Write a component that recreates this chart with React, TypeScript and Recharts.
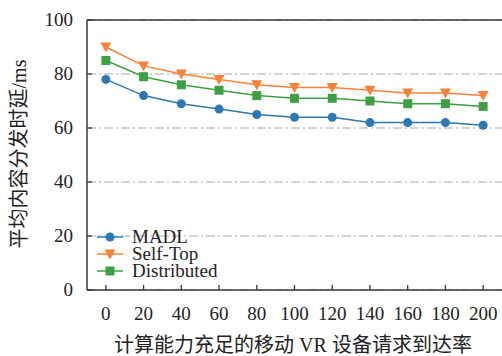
import { LineChart, Line, XAxis, YAxis, CartesianGrid, ReferenceLine } from 'recharts';

const rates = [0, 20, 40, 60, 80, 100, 120, 140, 160, 180, 200];
const madl = [78, 72, 69, 67, 65, 64, 64, 62, 62, 62, 61];
const selfTop = [90, 83, 80, 78, 76, 75, 75, 74, 73, 73, 72];
const distributed = [85, 79, 76, 74, 72, 71, 71, 70, 69, 69, 68];
const yTicks = [0, 20, 40, 60, 80, 100];

const BLUE = '#2b78b5';
const ORANGE = '#f7823a';
const GREEN = '#3f9f45';
const AXIS = '#3a3a3a';
const FONT = '"Liberation Serif", "Times New Roman", serif';
const CJK = '"Noto Sans CJK SC", "Liberation Serif", serif';

const data = rates.map((r, i) => ({
    rate: r,
    madl: madl[i],
    selfTop: selfTop[i],
    distributed: distributed[i],
}));

const XTick = (props: any) => {
    const { x, y, payload } = props;
    return (
        <g>
            <line x1={x} y1={y} x2={x} y2={y - 5} stroke={AXIS} strokeWidth={1.3} />
            <text x={x} y={y + 30} textAnchor="middle" style={{ fontFamily: FONT }} fontSize={19} fill="#222">
                {payload.value}
            </text>
        </g>
    );
};

const YTick = (props: any) => {
    const { x, y, payload } = props;
    return (
        <g>
            <line x1={x} y1={y} x2={x + 5} y2={y} stroke={AXIS} strokeWidth={1.3} />
            <text x={x - 14} y={y + 6} textAnchor="end" style={{ fontFamily: FONT }} fontSize={19} fill="#222">
                {payload.value}
            </text>
        </g>
    );
};

const TriangleDot = (props: any) => {
    const { cx, cy } = props;
    if (cx == null || cy == null) return null;
    return <path d={`M${cx - 5.5},${cy - 4.5} L${cx + 5.5},${cy - 4.5} L${cx},${cy + 5.5} Z`} fill={ORANGE} />;
};

const SquareDot = (props: any) => {
    const { cx, cy } = props;
    if (cx == null || cy == null) return null;
    return <rect x={cx - 4.5} y={cy - 4.5} width={9} height={9} fill={GREEN} />;
};

const legendItems = [
    { name: 'MADL', color: BLUE, shape: 'circle' },
    { name: 'Self-Top', color: ORANGE, shape: 'triangle' },
    { name: 'Distributed', color: GREEN, shape: 'square' },
];

const ChartLegend = () => (
    <div
        style={{
            position: 'absolute',
            left: 95,
            top: 228,
            fontFamily: FONT,
            fontSize: 19,
            color: '#222',
            lineHeight: '17px',
        }}
    >
        {legendItems.map((item) => (
            <div key={item.name} style={{ display: 'flex', alignItems: 'center', height: 17 }}>
                <svg width={30} height={14} style={{ marginRight: 7 }}>
                    <line x1={2} y1={7} x2={28} y2={7} stroke={item.color} strokeWidth={1.5} />
                    {item.shape === 'circle' && <circle cx={15} cy={7} r={4.5} fill={item.color} />}
                    {item.shape === 'triangle' && <path d="M9.5,2.5 L20.5,2.5 L15,12.5 Z" fill={item.color} />}
                    {item.shape === 'square' && <rect x={10.5} y={2.5} width={9} height={9} fill={item.color} />}
                </svg>
                <span>{item.name}</span>
            </div>
        ))}
    </div>
);

export default function App() {
    return (
        <div style={{ position: 'absolute', left: 0, top: 0, width: 502, height: 356, background: '#fff' }}>
            <LineChart width={502} height={356} data={data} margin={{ top: 20, right: 0, bottom: 0, left: 0 }}>
                <CartesianGrid vertical={false} stroke="#a8a8a8" strokeDasharray="9 3 2 3" />
                <XAxis
                    dataKey="rate"
                    type="number"
                    domain={[-10, 210]}
                    ticks={rates}
                    allowDataOverflow
                    height={66}
                    tickSize={0}
                    tickMargin={0}
                    tick={<XTick />}
                    axisLine={{ stroke: AXIS, strokeWidth: 1.5 }}
                    tickLine={false}
                />
                <YAxis
                    type="number"
                    domain={[0, 100]}
                    ticks={yTicks}
                    width={87}
                    tickSize={0}
                    tickMargin={0}
                    tick={<YTick />}
                    axisLine={{ stroke: AXIS, strokeWidth: 1.5 }}
                    tickLine={false}
                />
                <ReferenceLine y={100} stroke={AXIS} strokeWidth={1.5} />
                <Line
                    dataKey="madl"
                    name="MADL"
                    stroke={BLUE}
                    strokeWidth={1.5}
                    dot={{ r: 4.5, fill: BLUE, stroke: 'none' }}
                    isAnimationActive={false}
                />
                <Line
                    dataKey="selfTop"
                    name="Self-Top"
                    stroke={ORANGE}
                    strokeWidth={1.5}
                    dot={<TriangleDot />}
                    isAnimationActive={false}
                />
                <Line
                    dataKey="distributed"
                    name="Distributed"
                    stroke={GREEN}
                    strokeWidth={1.5}
                    dot={<SquareDot />}
                    isAnimationActive={false}
                />
            </LineChart>
            <ChartLegend />
            <div
                style={{
                    position: 'absolute',
                    left: 18,
                    top: 154,
                    transform: 'translate(-50%, -50%) rotate(-90deg)',
                    whiteSpace: 'nowrap',
                    fontFamily: CJK,
                    fontSize: 20,
                    lineHeight: '22px',
                    color: '#222',
                }}
            >
                平均内容分发时延<span style={{ fontFamily: FONT, fontSize: 20 }}>/ms</span>
            </div>
            <div
                style={{
                    position: 'absolute',
                    left: 293,
                    top: 344,
                    transform: 'translate(-50%, -50%)',
                    whiteSpace: 'nowrap',
                    fontFamily: CJK,
                    fontSize: 20,
                    lineHeight: '22px',
                    color: '#222',
                }}
            >
                计算能力充足的移动<span style={{ fontFamily: FONT, fontSize: 20 }}> VR </span>设备请求到达率
            </div>
        </div>
    );
}
